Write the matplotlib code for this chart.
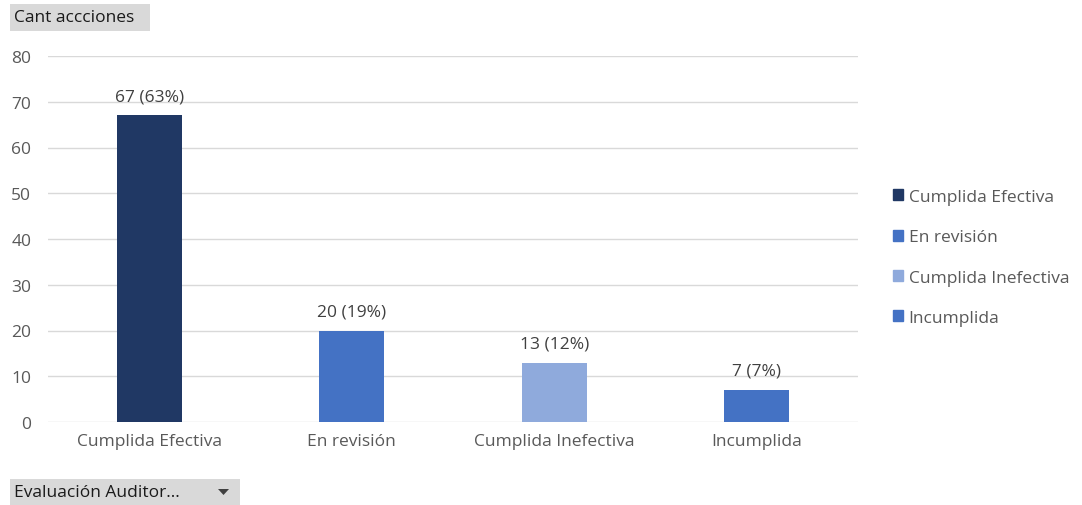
import matplotlib
matplotlib.use("Agg")
import matplotlib.pyplot as plt
from matplotlib.patches import Rectangle, Polygon

categories = ["Cumplida Efectiva", "En revisión", "Cumplida Inefectiva", "Incumplida"]
values = [67, 20, 13, 7]
labels = ["67 (63%)", "20 (19%)", "13 (12%)", "7 (7%)"]
colors = ["#203864", "#4472C4", "#8FAADC", "#4472C4"]
yticks = [0, 10, 20, 30, 40, 50, 60, 70, 80]

plt.rcParams['font.family'] = ['Open Sans', 'DejaVu Sans']
FS = 12.5
W, H = 1082, 506
fig = plt.figure(figsize=(W / 100, H / 100), dpi=100)
ax = fig.add_axes([48 / W, 1 - 423 / H, 810 / W, 366 / H])

x = range(len(categories))
bars = ax.bar(x, values, width=0.32, color=colors, zorder=3)
for b, lab in zip(bars, labels):
    ax.annotate(lab, (b.get_x() + b.get_width() / 2, b.get_height()),
                xytext=(0, 8), textcoords="offset points", ha="center", va="bottom",
                fontsize=FS, color="#404040")

ax.set_xlim(-0.5, len(categories) - 0.5)
ax.set_ylim(0, 80)
ax.set_yticks(yticks)
ax.set_xticks(list(x))
ax.set_xticklabels(categories)
ax.grid(axis="y", color="#D9D9D9", linewidth=1, zorder=0)
for s in ax.spines.values():
    s.set_visible(False)
ax.tick_params(axis="both", length=0, labelsize=FS, labelcolor="#595959")
ax.tick_params(axis="y", pad=12)
ax.tick_params(axis="x", pad=8)

handles = [Rectangle((0, 0), 1, 1, color=c) for c in colors]
fig.legend(handles, categories, loc="upper left", bbox_to_anchor=(886 / W, 1 - 183 / H),
           frameon=False, fontsize=FS, labelcolor="#595959", handlelength=0.6,
           handleheight=0.6, handletextpad=0.3, labelspacing=1.4, borderaxespad=0)

# Pivot field buttons
fig.patches.append(Rectangle((10 / W, 1 - 32 / H), 140 / W, 27 / H, transform=fig.transFigure,
                             facecolor="#D9D9D9", edgecolor="none"))
fig.text(14 / W, 1 - 18.5 / H, "Cant accciones", fontsize=FS, color="#1a1a1a", va="center", ha="left")
fig.patches.append(Rectangle((10 / W, 0), 230 / W, 26 / H, transform=fig.transFigure,
                             facecolor="#D9D9D9", edgecolor="none"))
fig.text(14 / W, 13 / H, "Evaluación Auditor...", fontsize=FS, color="#1a1a1a", va="center", ha="left")
fig.patches.append(Polygon([(218 / W, 16 / H), (229 / W, 16 / H), (223.5 / W, 10 / H)],
                           closed=True, transform=fig.transFigure, facecolor="#404040", edgecolor="none"))

fig.savefig("out.png", dpi=100)
